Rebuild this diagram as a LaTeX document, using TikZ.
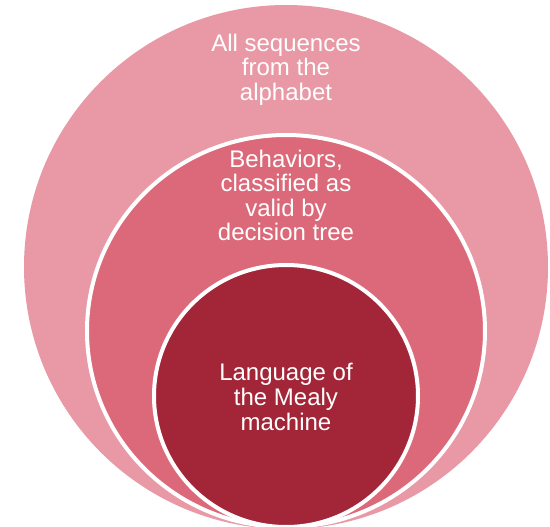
\documentclass[tikz,border=0pt]{standalone}
\usepackage{fontspec}
\setmainfont{Liberation Sans}
\definecolor{outerpink}{RGB}{232,153,165}
\definecolor{midpink}{RGB}{220,105,121}
\definecolor{innerred}{RGB}{163,37,56}
\tikzset{
  ring/.style={draw=white, line width=4pt},
  lbl/.style={text=white, align=center, inner sep=0pt, font=\fontsize{24}{24.6}\selectfont}
}
\begin{document}
\begin{tikzpicture}[x=1pt,y=-1pt]
\useasboundingbox (0,0) rectangle (550,527);
\clip (0,0) rectangle (550,527);
\fill[white] (0,0) rectangle (550,527);
\path[fill=outerpink] (286,267) ellipse [x radius=262, y radius=262];
\path[ring, fill=midpink] (286,331) ellipse [x radius=199, y radius=196];
\path[ring, fill=innerred] (286,396) ellipse [x radius=132, y radius=131];
\node[lbl] (a) at (286,69.5) {All sequences\\from the\\alphabet};
\node[lbl] (b) at (286,195.5) {Behaviors,\\classified as\\valid by\\decision tree};
\node[lbl] (c) at (286,397) {Language of\\the Mealy\\machine};
\end{tikzpicture}
\end{document}
